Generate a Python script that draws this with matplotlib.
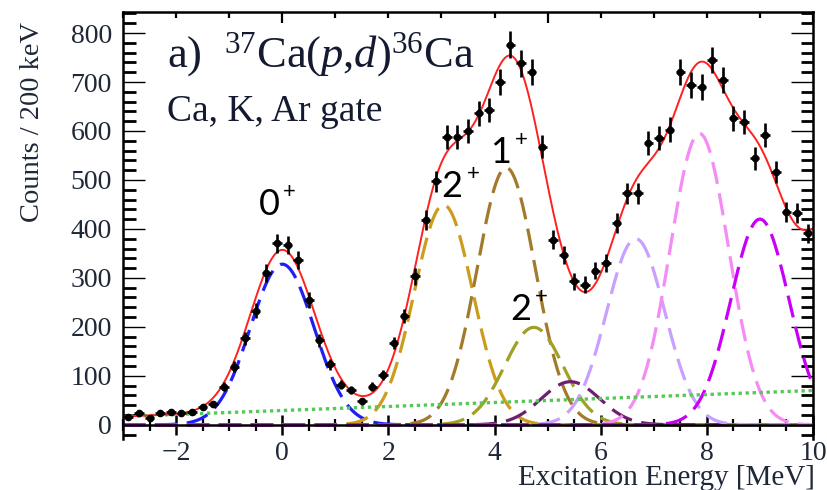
import numpy as np
import matplotlib.pyplot as plt
from matplotlib.ticker import MultipleLocator, FixedLocator

plt.rcParams['font.family'] = ['Liberation Serif', 'DejaVu Serif']
plt.rcParams['mathtext.fontset'] = 'custom'
plt.rcParams['mathtext.rm'] = 'Liberation Serif'
plt.rcParams['mathtext.it'] = 'Liberation Serif:italic'
plt.rcParams['mathtext.bf'] = 'Liberation Serif:bold'

# measured spectrum, 200 keV bins
energy = [-2.9, -2.7, -2.5, -2.3, -2.1, -1.9, -1.7, -1.5, -1.3, -1.1,
          -0.9, -0.7, -0.5, -0.3, -0.1, 0.1, 0.3, 0.5, 0.7, 0.9,
          1.1, 1.3, 1.5, 1.7, 1.9, 2.1, 2.3, 2.5, 2.7, 2.9,
          3.1, 3.3, 3.5, 3.7, 3.9, 4.1, 4.3, 4.5, 4.7, 4.9,
          5.1, 5.3, 5.5, 5.7, 5.9, 6.1, 6.3, 6.5, 6.7, 6.9,
          7.1, 7.3, 7.5, 7.7, 7.9, 8.1, 8.3, 8.5, 8.7, 8.9,
          9.1, 9.3, 9.5, 9.7, 9.9]
counts = [15, 24, 14, 24, 27, 25, 27, 37, 43, 78,
          119, 177, 233, 310, 371, 367, 337, 255, 173, 124,
          82, 71, 48, 78, 102, 167, 222, 303, 418, 497,
          588, 587, 599, 636, 643, 701, 776, 738, 721, 568,
          378, 347, 293, 286, 315, 330, 412, 473, 473, 575,
          585, 603, 721, 694, 690, 745, 704, 626, 619, 544,
          592, 517, 435, 432, 391]

# fitted peaks (gaussians)
peak_centers = [0.0, 3.04, 4.22, 4.74, 5.43, 6.66, 7.86, 9.0]
peak_heights = [328, 449, 525, 199, 88, 380, 595, 420]
peak_sigmas = [0.60, 0.55, 0.55, 0.55, 0.55, 0.55, 0.55, 0.55]
peak_colors = ['#1e1ef5', '#cc9c1c', '#a27a2c', '#a0a022', '#6e1f6e',
               '#c8a0ff', '#f58cf5', '#c800f8']
# component above 10 MeV, only in the total fit
tail_center, tail_height, tail_sigma = 10.38, 318, 0.55
# linear background
bg_energy = [-3, 10]
bg_counts = [17, 70]

spin_text = ['0', '2', '1', '2']
spin_x = [-0.25, 3.20, 4.11, 4.49]
spin_y = [429, 465, 535, 214]


def gauss(x, c, h, s):
    return h * np.exp(-(x - c) ** 2 / (2 * s ** 2))


fig = plt.figure(figsize=(8.28, 4.90), dpi=100)
ax = fig.add_axes([123 / 828, 0.1041, 690 / 828, 0.8714])

xs = np.linspace(-3, 10, 800)
bg = np.interp(xs, bg_energy, bg_counts)
total = bg + gauss(xs, tail_center, tail_height, tail_sigma)
for c, h, s, col in zip(peak_centers, peak_heights, peak_sigmas, peak_colors):
    g = gauss(xs, c, h, s)
    total = total + g
    ax.plot(xs, g, color=col, lw=2.3, dashes=(7, 3))
ax.plot(xs, bg, color='#55c855', lw=2.4, linestyle=(0, (1, 1.1)))
ax.plot(xs, total, color='#ff2020', lw=1.4)

yerr = np.sqrt(counts)
ax.errorbar(energy, counts, yerr=yerr, xerr=0.09, fmt='o', color='black',
            ms=4.5, elinewidth=1.9, capsize=0, zorder=5)

ax.set_xlim(-3, 10)
ax.set_ylim(-29, 843)

for sp in ax.spines.values():
    sp.set_linewidth(1.8)
ax.spines['bottom'].set_position(('data', 0))
ax.spines['top'].set_visible(False)

ax.yaxis.set_major_locator(MultipleLocator(100))
ax.yaxis.set_minor_locator(MultipleLocator(20))
ax.xaxis.set_major_locator(MultipleLocator(2))
ax.xaxis.set_minor_locator(MultipleLocator(0.5))
ax.set_yticks(range(0, 801, 100))
ax.tick_params(axis='y', which='major', direction='in', length=16, width=1.0,
               left=True, right=True, labelsize=20, pad=8,
               labelcolor='#1f2838')
ax.tick_params(axis='y', which='minor', direction='in', length=9, width=2.0,
               left=True, right=True)
ax.tick_params(axis='x', which='major', direction='inout', length=14,
               width=1.8, labelsize=20, pad=5, labelcolor='#1f2838')
ax.tick_params(axis='x', which='minor', direction='inout', length=8,
               width=1.6)
ax.set_xticks([-2, 0, 2, 4, 6, 8, 10])
ax.set_xticklabels(['\u22122', '0', '2', '4', '6', '8', '10'])

top = ax.secondary_xaxis('top')
top.spines['top'].set_linewidth(1.8)
top.xaxis.set_major_locator(FixedLocator([0, 5, 10]))
top.xaxis.set_minor_locator(MultipleLocator(1))
top.tick_params(which='major', direction='in', length=8, width=1.6,
                labeltop=False)
top.tick_params(which='minor', direction='in', length=4, width=1.6)

fig.text(33 / 828, 1 - 122 / 490, 'Counts / 200 keV', rotation=90,
         ha='center', va='center', fontsize=20.5, color='#1f2838')
fig.text(815 / 828, 1 - 485 / 490, 'Excitation Energy [MeV]', ha='right',
         va='baseline', fontsize=21, color='#1f2838')

fig.text(167 / 828, 1 - 67 / 490, 'a)  $^{37}$Ca($p$,$d$)$^{36}$Ca',
         ha='left', va='baseline', fontsize=32, color='#141a30')
fig.text(167 / 828, 1 - 121 / 490, 'Ca, K, Ar gate', ha='left',
         va='baseline', fontsize=27, color='#141a30')

for t, x, y in zip(spin_text, spin_x, spin_y):
    ax.text(x, y, t, family='Lato', fontsize=26, ha='center',
            va='baseline', color='black', zorder=6)
    ax.annotate('+', xy=(x, y), xytext=(15, 12), textcoords='offset points',
                family='Lato', fontsize=16, ha='center', va='baseline',
                color='black', zorder=6)

plt.savefig('out.png', dpi=100)
